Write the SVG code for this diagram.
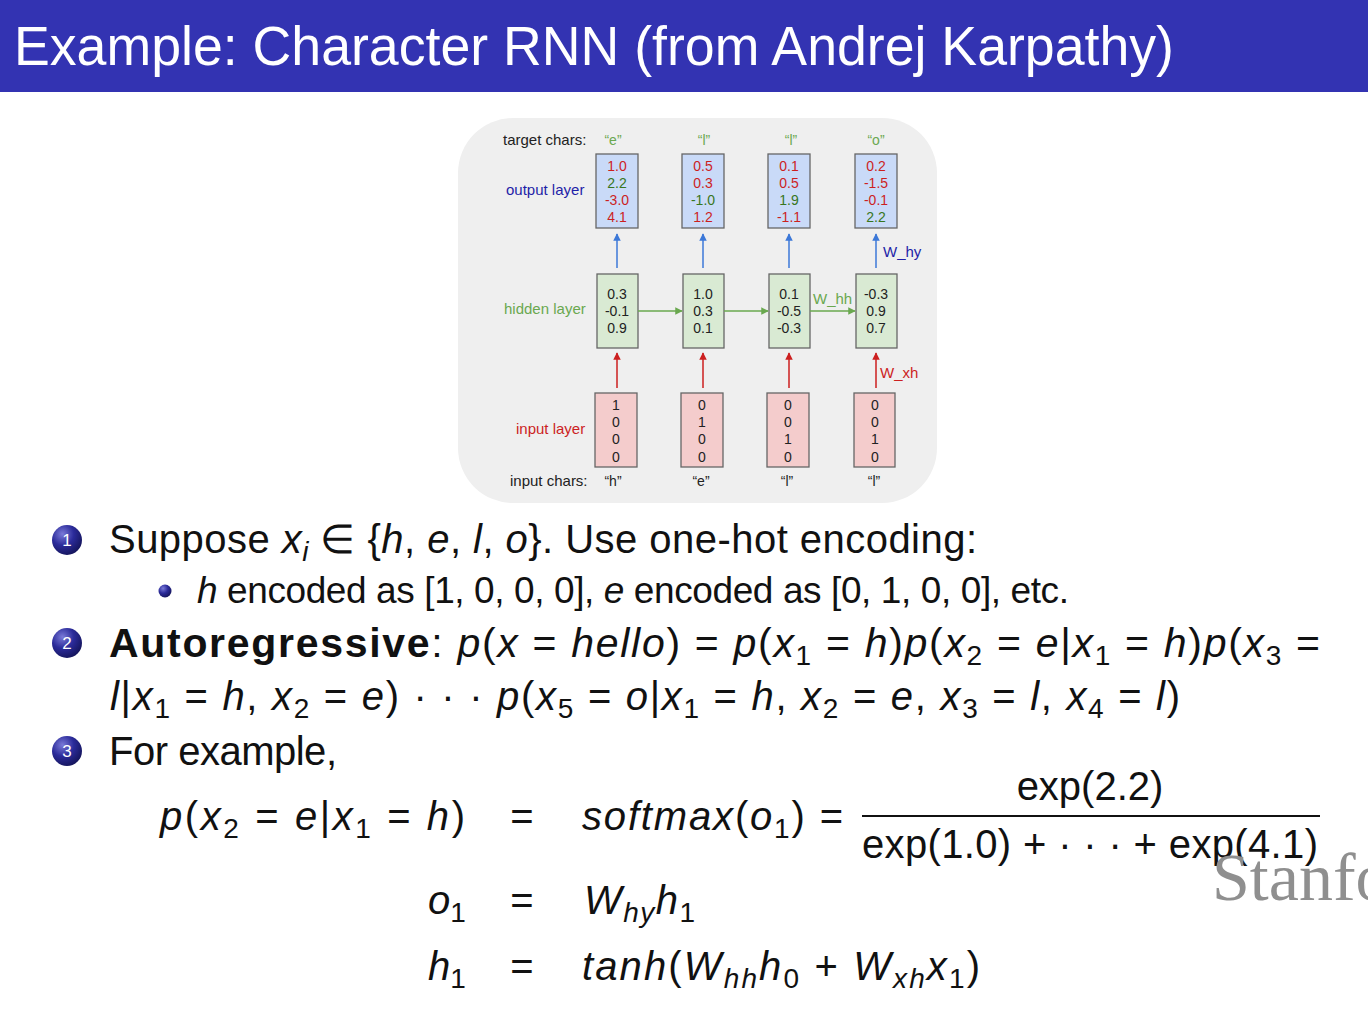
<svg xmlns="http://www.w3.org/2000/svg" width="1368" height="1010" viewBox="0 0 1368 1010">
<defs>
<style>
.lbl{font-family:"Liberation Sans",Arial,sans-serif;font-size:15px;fill:#222}
.val{font-family:"Liberation Sans",Arial,sans-serif;font-size:14px;text-anchor:middle}
.r{fill:#cc1f1f}.g{fill:#38761d}.k{fill:#222}
.ob{fill:#c9daf8;stroke:#666;stroke-width:1.3}
.hb{fill:#d9ead3;stroke:#666;stroke-width:1.3}
.ib{fill:#f4cccc;stroke:#666;stroke-width:1.3}
.m{font-family:"Liberation Sans",Arial,sans-serif;font-size:40px;fill:#111}
.i{font-style:italic}
.s{font-size:28px}
.bn{font-family:"Liberation Sans",Arial,sans-serif;font-size:17px;fill:#fff;text-anchor:middle}
</style>
<marker id="ab" viewBox="0 0 10 10" refX="9" refY="5" markerWidth="5" markerHeight="5" orient="auto"><path d="M0,0L10,5L0,10z" fill="#3c78d8"/></marker>
<marker id="ar" viewBox="0 0 10 10" refX="9" refY="5" markerWidth="5" markerHeight="5" orient="auto"><path d="M0,0L10,5L0,10z" fill="#cc1f1f"/></marker>
<marker id="ag" viewBox="0 0 10 10" refX="9" refY="5" markerWidth="5" markerHeight="5" orient="auto"><path d="M0,0L10,5L0,10z" fill="#6aa84f"/></marker>
<radialGradient id="bg1" cx="0.35" cy="0.3" r="0.75"><stop offset="0" stop-color="#7a7ad8"/><stop offset="0.5" stop-color="#2b2b9a"/><stop offset="1" stop-color="#14145a"/></radialGradient>
</defs>
<rect width="1368" height="1010" fill="#ffffff"/>
<g id="title">
<rect x="0" y="0" width="1368" height="92" fill="#3333b2"/>
<text x="14" y="65" font-family="Liberation Sans,Arial,sans-serif" font-size="56" fill="#ffffff" textLength="1160" lengthAdjust="spacingAndGlyphs">Example:  Character RNN (from Andrej Karpathy)</text>
</g>
<g id="panel">
<rect x="458" y="118" width="479" height="385" rx="55" fill="#efefef"/>
<text class="lbl" x="503" y="145">target chars:</text>
<text class="lbl" x="506" y="195" style="fill:#1f1fa8">output layer</text>
<text class="lbl" x="504" y="314" style="fill:#6aa84f">hidden layer</text>
<text class="lbl" x="516" y="434" style="fill:#cc1f1f">input layer</text>
<text class="lbl" x="510" y="486">input chars:</text>
<text class="val" x="613" y="145" style="fill:#6aa84f">“e”</text>
<text class="val" x="704" y="145" style="fill:#6aa84f">“l”</text>
<text class="val" x="791" y="145" style="fill:#6aa84f">“l”</text>
<text class="val" x="876" y="145" style="fill:#6aa84f">“o”</text>
<text class="val" x="613" y="486" style="fill:#222">“h”</text>
<text class="val" x="701" y="486" style="fill:#222">“e”</text>
<text class="val" x="787" y="486" style="fill:#222">“l”</text>
<text class="val" x="874" y="486" style="fill:#222">“l”</text>
</g>
<g id="out1"><rect class="ob" x="596" y="154" width="42" height="74"/><text class="val r" x="617" y="171">1.0</text><text class="val g" x="617" y="188">2.2</text><text class="val r" x="617" y="205">-3.0</text><text class="val r" x="617" y="222">4.1</text></g>
<g id="out2"><rect class="ob" x="682" y="154" width="42" height="74"/><text class="val r" x="703" y="171">0.5</text><text class="val r" x="703" y="188">0.3</text><text class="val g" x="703" y="205">-1.0</text><text class="val r" x="703" y="222">1.2</text></g>
<g id="out3"><rect class="ob" x="768" y="154" width="42" height="74"/><text class="val r" x="789" y="171">0.1</text><text class="val r" x="789" y="188">0.5</text><text class="val g" x="789" y="205">1.9</text><text class="val r" x="789" y="222">-1.1</text></g>
<g id="out4"><rect class="ob" x="855" y="154" width="42" height="74"/><text class="val r" x="876" y="171">0.2</text><text class="val r" x="876" y="188">-1.5</text><text class="val r" x="876" y="205">-0.1</text><text class="val g" x="876" y="222">2.2</text></g>
<g id="hid1"><rect class="hb" x="597" y="274" width="41" height="74"/><text class="val k" x="617" y="299">0.3</text><text class="val k" x="617" y="316">-0.1</text><text class="val k" x="617" y="333">0.9</text></g>
<g id="hid2"><rect class="hb" x="683" y="274" width="41" height="74"/><text class="val k" x="703" y="299">1.0</text><text class="val k" x="703" y="316">0.3</text><text class="val k" x="703" y="333">0.1</text></g>
<g id="hid3"><rect class="hb" x="769" y="274" width="41" height="74"/><text class="val k" x="789" y="299">0.1</text><text class="val k" x="789" y="316">-0.5</text><text class="val k" x="789" y="333">-0.3</text></g>
<g id="hid4"><rect class="hb" x="856" y="274" width="41" height="74"/><text class="val k" x="876" y="299">-0.3</text><text class="val k" x="876" y="316">0.9</text><text class="val k" x="876" y="333">0.7</text></g>
<g id="in1"><rect class="ib" x="595" y="393" width="42" height="74"/><text class="val k" x="616" y="410">1</text><text class="val k" x="616" y="427">0</text><text class="val k" x="616" y="444">0</text><text class="val k" x="616" y="462">0</text></g>
<g id="in2"><rect class="ib" x="681" y="393" width="42" height="74"/><text class="val k" x="702" y="410">0</text><text class="val k" x="702" y="427">1</text><text class="val k" x="702" y="444">0</text><text class="val k" x="702" y="462">0</text></g>
<g id="in3"><rect class="ib" x="767" y="393" width="42" height="74"/><text class="val k" x="788" y="410">0</text><text class="val k" x="788" y="427">0</text><text class="val k" x="788" y="444">1</text><text class="val k" x="788" y="462">0</text></g>
<g id="in4"><rect class="ib" x="854" y="393" width="41" height="74"/><text class="val k" x="875" y="410">0</text><text class="val k" x="875" y="427">0</text><text class="val k" x="875" y="444">1</text><text class="val k" x="875" y="462">0</text></g>
<g id="connectors" stroke-width="1.5" fill="none">
<line x1="617" y1="268" x2="617" y2="234" stroke="#3c78d8" marker-end="url(#ab)"/>
<line x1="703" y1="268" x2="703" y2="234" stroke="#3c78d8" marker-end="url(#ab)"/>
<line x1="789" y1="268" x2="789" y2="234" stroke="#3c78d8" marker-end="url(#ab)"/>
<line x1="876" y1="268" x2="876" y2="234" stroke="#3c78d8" marker-end="url(#ab)"/>
<line x1="617" y1="388" x2="617" y2="353" stroke="#cc1f1f" marker-end="url(#ar)"/>
<line x1="703" y1="388" x2="703" y2="353" stroke="#cc1f1f" marker-end="url(#ar)"/>
<line x1="789" y1="388" x2="789" y2="353" stroke="#cc1f1f" marker-end="url(#ar)"/>
<line x1="876" y1="388" x2="876" y2="353" stroke="#cc1f1f" marker-end="url(#ar)"/>
<line x1="638" y1="311" x2="682" y2="311" stroke="#6aa84f" marker-end="url(#ag)"/>
<line x1="724" y1="311" x2="768" y2="311" stroke="#6aa84f" marker-end="url(#ag)"/>
<line x1="810" y1="311" x2="855" y2="311" stroke="#6aa84f" marker-end="url(#ag)"/>
<text class="lbl" x="883" y="257" style="fill:#1f1fa8">W_hy</text>
<text class="lbl" x="813" y="304" style="fill:#6aa84f">W_hh</text>
<text class="lbl" x="880" y="378" style="fill:#cc1f1f">W_xh</text>
</g>
<g id="bullets">
<circle cx="67" cy="540" r="15" fill="url(#bg1)"/><text class="bn" x="67" y="546">1</text>
<circle cx="67" cy="643" r="15" fill="url(#bg1)"/><text class="bn" x="67" y="649">2</text>
<circle cx="67" cy="751" r="15" fill="url(#bg1)"/><text class="bn" x="67" y="757">3</text>
<circle cx="165" cy="591" r="6.5" fill="url(#bg1)"/>
</g>
<g id="text">
<text class="m" x="109" y="553" textLength="868" lengthAdjust="spacing">Suppose <tspan class="i">x</tspan><tspan class="i s" dy="8">i</tspan><tspan dy="-8"> ∈ {</tspan><tspan class="i">h</tspan>, <tspan class="i">e</tspan>, <tspan class="i">l</tspan>, <tspan class="i">o</tspan>}.  Use one-hot encoding:</text>
<text class="m" x="197" y="603" font-size="37" style="font-size:37px" textLength="872" lengthAdjust="spacing"><tspan class="i">h</tspan> encoded as [1, 0, 0, 0], <tspan class="i">e</tspan> encoded as [0, 1, 0, 0], etc.</text>
<text class="m" x="109" y="657" style="font-size:41px" textLength="1211" lengthAdjust="spacing"><tspan font-weight="bold">Autoregressive</tspan>:  <tspan class="i">p</tspan>(<tspan class="i">x</tspan> = <tspan class="i">hello</tspan>) = <tspan class="i">p</tspan>(<tspan class="i">x</tspan><tspan class="s" dy="8">1</tspan><tspan dy="-8"> = </tspan><tspan class="i">h</tspan>)<tspan class="i">p</tspan>(<tspan class="i">x</tspan><tspan class="s" dy="8">2</tspan><tspan dy="-8"> = </tspan><tspan class="i">e</tspan>|<tspan class="i">x</tspan><tspan class="s" dy="8">1</tspan><tspan dy="-8"> = </tspan><tspan class="i">h</tspan>)<tspan class="i">p</tspan>(<tspan class="i">x</tspan><tspan class="s" dy="8">3</tspan><tspan dy="-8"> =</tspan></text>
<text class="m" x="110" y="710" textLength="1070" lengthAdjust="spacing"><tspan class="i">l</tspan>|<tspan class="i">x</tspan><tspan class="s" dy="8">1</tspan><tspan dy="-8"> = </tspan><tspan class="i">h</tspan>, <tspan class="i">x</tspan><tspan class="s" dy="8">2</tspan><tspan dy="-8"> = </tspan><tspan class="i">e</tspan>) · · · <tspan class="i">p</tspan>(<tspan class="i">x</tspan><tspan class="s" dy="8">5</tspan><tspan dy="-8"> = </tspan><tspan class="i">o</tspan>|<tspan class="i">x</tspan><tspan class="s" dy="8">1</tspan><tspan dy="-8"> = </tspan><tspan class="i">h</tspan>, <tspan class="i">x</tspan><tspan class="s" dy="8">2</tspan><tspan dy="-8"> = </tspan><tspan class="i">e</tspan>, <tspan class="i">x</tspan><tspan class="s" dy="8">3</tspan><tspan dy="-8"> = </tspan><tspan class="i">l</tspan>, <tspan class="i">x</tspan><tspan class="s" dy="8">4</tspan><tspan dy="-8"> = </tspan><tspan class="i">l</tspan>)</text>
<text class="m" x="109" y="765" textLength="228" lengthAdjust="spacing">For example,</text>
<text class="m" x="160" y="830" textLength="305" lengthAdjust="spacing"><tspan class="i">p</tspan>(<tspan class="i">x</tspan><tspan class="s" dy="8">2</tspan><tspan dy="-8"> = </tspan><tspan class="i">e</tspan>|<tspan class="i">x</tspan><tspan class="s" dy="8">1</tspan><tspan dy="-8"> = </tspan><tspan class="i">h</tspan>)</text>
<text class="m" x="522" y="830" text-anchor="middle">=</text>
<text class="m" x="582" y="830" textLength="261" lengthAdjust="spacing"><tspan class="i">softmax</tspan>(<tspan class="i">o</tspan><tspan class="s" dy="8">1</tspan><tspan dy="-8">) =</tspan></text>
<text class="m" x="1090" y="800" text-anchor="middle">exp(2.2)</text>
<line x1="862" y1="816" x2="1320" y2="816" stroke="#111" stroke-width="2"/>
<text class="m" x="862" y="858" textLength="456" lengthAdjust="spacing">exp(1.0) + · · · + exp(4.1)</text>
<text class="m" x="428" y="914"><tspan class="i">o</tspan><tspan class="s" dy="8">1</tspan></text>
<text class="m" x="522" y="914" text-anchor="middle">=</text>
<text class="m" x="584" y="914" textLength="111" lengthAdjust="spacing"><tspan class="i">W</tspan><tspan class="i s" dy="8">hy</tspan><tspan class="i" dy="-8">h</tspan><tspan class="s" dy="8">1</tspan></text>
<text class="m" x="428" y="980"><tspan class="i">h</tspan><tspan class="s" dy="8">1</tspan></text>
<text class="m" x="522" y="980" text-anchor="middle">=</text>
<text class="m" x="582" y="980" textLength="398" lengthAdjust="spacing"><tspan class="i">tanh</tspan>(<tspan class="i">W</tspan><tspan class="i s" dy="8">hh</tspan><tspan class="i" dy="-8">h</tspan><tspan class="s" dy="8">0</tspan><tspan dy="-8"> + </tspan><tspan class="i">W</tspan><tspan class="i s" dy="8">xh</tspan><tspan class="i" dy="-8">x</tspan><tspan class="s" dy="8">1</tspan><tspan dy="-8">)</tspan></text>
</g>
<g id="watermark">
<text x="1212" y="900" font-family="Liberation Serif,serif" font-size="68" fill="#8f8f8f">Stanford</text>
</g>
</svg>
